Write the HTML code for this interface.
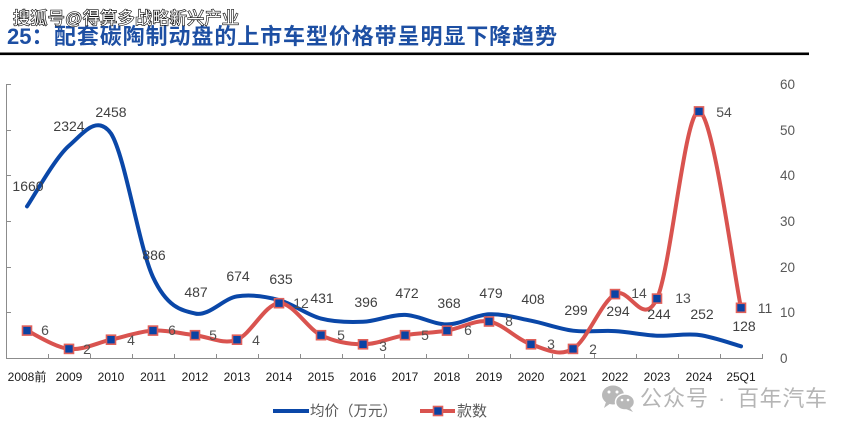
<!DOCTYPE html>
<html>
<head>
<meta charset="utf-8">
<style>
html,body{margin:0;padding:0;background:#ffffff;}
body{width:855px;height:432px;overflow:hidden;}
svg{display:block;}
text{font-family:"Liberation Sans","Noto Sans CJK SC",sans-serif;}
</style>
</head>
<body>
<svg width="855" height="432" viewBox="0 0 855 432" xmlns="http://www.w3.org/2000/svg">
  <rect width="855" height="432" fill="#ffffff"/>

  <!-- Title -->
  <text x="7" y="44" font-size="22" font-weight="bold" fill="#1d4fa3">25：</text>
  <text x="54" y="44" font-size="22" font-weight="bold" fill="#1d4fa3" textLength="503" lengthAdjust="spacing">配套碳陶制动盘的上市车型价格带呈明显下降趋势</text>
  <!-- top-left watermark -->
  <text x="13" y="24" font-size="17" fill="#ffffff" stroke="#111111" stroke-width="1.3" paint-order="stroke" textLength="226" lengthAdjust="spacing">搜狐号@得算多战略新兴产业</text>
  <!-- rule -->
  <rect x="0" y="52.5" width="809" height="2.6" fill="#000000"/>

  <!-- Axes -->
  <g stroke="#8c8c8c" stroke-width="1" fill="none">
    <line x1="6.5" y1="84" x2="6.5" y2="358"/>
    <line x1="6" y1="358.5" x2="763" y2="358.5"/>
    <line x1="6.5" y1="84.5" x2="11" y2="84.5"/>
    <line x1="6.5" y1="130.5" x2="11" y2="130.5"/>
    <line x1="6.5" y1="175.5" x2="11" y2="175.5"/>
    <line x1="6.5" y1="221.5" x2="11" y2="221.5"/>
    <line x1="6.5" y1="267.5" x2="11" y2="267.5"/>
    <line x1="6.5" y1="312.5" x2="11" y2="312.5"/>
    <path d="M48.5,358V354 M90.5,358V354 M132.5,358V354 M174.5,358V354 M216.5,358V354 M258.5,358V354 M300.5,358V354 M342.5,358V354 M384.5,358V354 M426.5,358V354 M468.5,358V354 M510.5,358V354 M552.5,358V354 M594.5,358V354 M636.5,358V354 M678.5,358V354 M720.5,358V354 M762.5,358V354"/>
  </g>

  <!-- Right axis labels -->
  <g font-size="13.5" fill="#595959">
    <text x="780" y="89">60</text>
    <text x="780" y="135">50</text>
    <text x="780" y="180">40</text>
    <text x="780" y="226">30</text>
    <text x="780" y="272">20</text>
    <text x="780" y="317">10</text>
    <text x="780" y="363">0</text>
  </g>

  <!-- X labels -->
  <g font-size="12" fill="#1a1a1a" text-anchor="middle">
    <text x="27" y="381">2008前</text>
    <text x="69" y="381">2009</text>
    <text x="111" y="381">2010</text>
    <text x="153" y="381">2011</text>
    <text x="195" y="381">2012</text>
    <text x="237" y="381">2013</text>
    <text x="279" y="381">2014</text>
    <text x="321" y="381">2015</text>
    <text x="363" y="381">2016</text>
    <text x="405" y="381">2017</text>
    <text x="447" y="381">2018</text>
    <text x="489" y="381">2019</text>
    <text x="531" y="381">2020</text>
    <text x="573" y="381">2021</text>
    <text x="615" y="381">2022</text>
    <text x="657" y="381">2023</text>
    <text x="699" y="381">2024</text>
    <text x="741" y="381">25Q1</text>
  </g>

  <!-- Blue series -->
  <path fill="none" stroke="#0a47a8" stroke-width="4" stroke-linecap="round" stroke-linejoin="round"
    d="M27,206.4 C34,196.28 55,157.85 69,145.7 C83,133.55 97,114 111,133.5 C125,155.4 139,247.1 153,277.1 C167,307.1 181,310.28 195,313.5 C209,316.72 223,298.65 237,296.4 C251,294.15 265,296.3 279,300.0 C293,303.7 307,314.97 321,318.6 C335,322.23 349,322.42 363,321.8 C377,321.18 391,314.47 405,314.9 C419,315.33 433,324.5 447,324.4 C461,324.3 475,314.92 489,314.3 C503,313.68 517,317.97 531,320.7 C545,323.43 559,328.97 573,330.7 C587,332.43 601,330.27 615,331.1 C629,331.93 643,335.05 657,335.7 C671,336.35 685,333.23 699,335.0 C713,336.77 734,344.42 741,346.3"/>

  <!-- Red series -->
  <path fill="none" stroke="#d9534f" stroke-width="4" stroke-linecap="round" stroke-linejoin="round"
    d="M27,330.6 C34,333.65 55,347.38 69,348.9 C83,350.42 97,342.75 111,339.7 C125,336.65 139,331.35 153,330.6 C167,329.85 181,333.68 195,335.2 C209,336.72 223,345.03 237,339.7 C251,334.37 265,303.95 279,303.2 C293,302.45 307,328.35 321,335.2 C335,342.05 349,344.3 363,344.3 C377,344.3 391,337.48 405,335.2 C419,332.92 433,332.88 447,330.6 C461,328.32 475,319.22 489,321.5 C503,323.78 517,339.73 531,344.3 C545,348.87 559,357.27 573,348.9 C587,340.53 601,302.48 615,294.1 C629,285.72 643,329.05 657,298.6 C671,268.15 685,109.87 699,111.4 C713,112.93 734,275.07 741,307.8"/>

  <!-- Markers -->
  <g fill="#0a43a4" stroke="#e0605a" stroke-width="1.6">
    <rect x="22.5" y="326.1" width="9" height="9"/>
    <rect x="64.5" y="344.4" width="9" height="9"/>
    <rect x="106.5" y="335.2" width="9" height="9"/>
    <rect x="148.5" y="326.1" width="9" height="9"/>
    <rect x="190.5" y="330.7" width="9" height="9"/>
    <rect x="232.5" y="335.2" width="9" height="9"/>
    <rect x="274.5" y="298.7" width="9" height="9"/>
    <rect x="316.5" y="330.7" width="9" height="9"/>
    <rect x="358.5" y="339.8" width="9" height="9"/>
    <rect x="400.5" y="330.7" width="9" height="9"/>
    <rect x="442.5" y="326.1" width="9" height="9"/>
    <rect x="484.5" y="317.0" width="9" height="9"/>
    <rect x="526.5" y="339.8" width="9" height="9"/>
    <rect x="568.5" y="344.4" width="9" height="9"/>
    <rect x="610.5" y="289.6" width="9" height="9"/>
    <rect x="652.5" y="294.1" width="9" height="9"/>
    <rect x="694.5" y="106.9" width="9" height="9"/>
    <rect x="736.5" y="303.3" width="9" height="9"/>
  </g>

  <!-- Blue data labels -->
  <g font-size="14" fill="#404040" text-anchor="middle">
    <text x="28" y="191">1660</text>
    <text x="69" y="131">2324</text>
    <text x="111" y="117">2458</text>
    <text x="154" y="260">886</text>
    <text x="196" y="297">487</text>
    <text x="238" y="281">674</text>
    <text x="281" y="284">635</text>
    <text x="322" y="303">431</text>
    <text x="366" y="307">396</text>
    <text x="407" y="298">472</text>
    <text x="449" y="308">368</text>
    <text x="491" y="298">479</text>
    <text x="533" y="304">408</text>
    <text x="576" y="315">299</text>
    <text x="618" y="316">294</text>
    <text x="659" y="319">244</text>
    <text x="702" y="319">252</text>
    <text x="744" y="331">128</text>
  </g>

  <!-- Red data labels -->
  <g font-size="14" fill="#505050" text-anchor="middle">
    <text x="45" y="335">6</text>
    <text x="87" y="354">2</text>
    <text x="131" y="345">4</text>
    <text x="172" y="335">6</text>
    <text x="213" y="340">5</text>
    <text x="256" y="345">4</text>
    <text x="301" y="308">12</text>
    <text x="341" y="340">5</text>
    <text x="383" y="351">3</text>
    <text x="425" y="340">5</text>
    <text x="468" y="335">6</text>
    <text x="509" y="326">8</text>
    <text x="551" y="349">3</text>
    <text x="593" y="354">2</text>
    <text x="639" y="298">14</text>
    <text x="683" y="303">13</text>
    <text x="724" y="117">54</text>
    <text x="765" y="313">11</text>
  </g>

  <!-- Legend -->
  <line x1="273" y1="411" x2="309" y2="411" stroke="#0a47a8" stroke-width="4"/>
  <text x="310" y="416" font-size="14.5" fill="#595959">均价（万元）</text>
  <line x1="420" y1="411" x2="455" y2="411" stroke="#d9534f" stroke-width="4"/>
  <rect x="433.5" y="406.5" width="9" height="9" fill="#0a43a4" stroke="#e0605a" stroke-width="1.6"/>
  <text x="457" y="416" font-size="15" fill="#595959">款数</text>

  <!-- Bottom-right watermark -->
  <g fill="#b8b8b8">
    <ellipse cx="613" cy="395" rx="11" ry="9.5"/>
    <path d="M606,402 L604,408 L611,403 Z"/>
    <ellipse cx="625" cy="402" rx="9.5" ry="8" stroke="#ffffff" stroke-width="1.5"/>
    <path d="M630,408 L633,412 L626,409 Z"/>
  </g>
  <g fill="#ffffff">
    <circle cx="609" cy="392" r="1.5"/>
    <circle cx="617" cy="392" r="1.5"/>
    <circle cx="622" cy="400" r="1.3"/>
    <circle cx="628" cy="400" r="1.3"/>
  </g>
  <g font-size="22" fill="#b5b5b5">
    <text x="640" y="406" textLength="68" lengthAdjust="spacing">公众号</text>
    <text x="718" y="406">·</text>
    <text x="737" y="406" textLength="90" lengthAdjust="spacing">百年汽车</text>
  </g>
</svg>
</body>
</html>
